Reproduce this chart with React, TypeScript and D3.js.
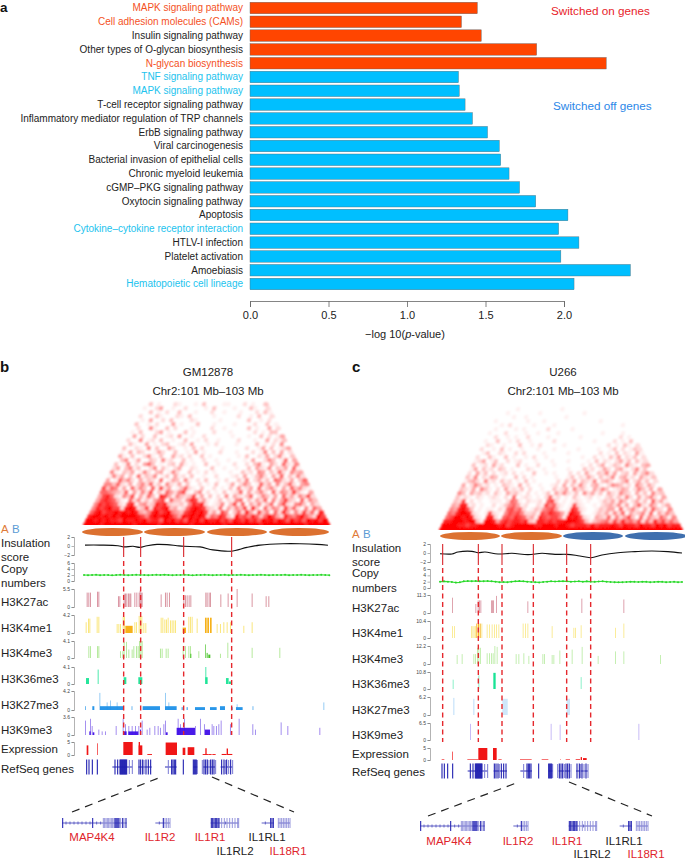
import React, { useEffect, useRef } from 'react';
import * as d3 from 'd3';

// panel a
const pathways = [
  'MAPK signaling pathway', 'Cell adhesion molecules (CAMs)', 'Insulin signaling pathway',
  'Other types of O-glycan biosynthesis', 'N-glycan biosynthesis', 'TNF signaling pathway',
  'MAPK signaling pathway', 'T-cell receptor signaling pathway',
  'Inflammatory mediator regulation of TRP channels', 'ErbB signaling pathway', 'Viral carcinogenesis',
  'Bacterial invasion of epithelial cells', 'Chronic myeloid leukemia', 'cGMP\u2013PKG signaling pathway',
  'Oxytocin signaling pathway', 'Apoptosis', 'Cytokine\u2013cytokine receptor interaction', 'HTLV-I infection',
  'Platelet activation', 'Amoebiasis', 'Hematopoietic cell lineage',
];
const pValues = [1.448, 1.347, 1.473, 1.826, 2.269, 1.328, 1.333, 1.37, 1.417, 1.513, 1.588, 1.597, 1.65, 1.717, 1.82, 2.025, 1.966, 2.095, 1.98, 2.423, 2.064];
const switchedOnCount = 5;
const orangeLabels = [0, 1, 4];
const blueLabels = [5, 6, 16, 20];
const axisTicks = [0, 0.5, 1, 1.5, 2];

// contact maps, top row first, digits 0 (white) to 9 (red)
const heatB = [
  '0301000210 0010300001 1000201003',
  '1002400100 2000010300 0010003100 2',
  '0030102003 0001000200 1000100020 31',
  '2000310002 1030000010 0000200103 002',
  '0104002030 0002100000 1000000300 1020',
  '3001020004 0100030001 0000100002 00301',
  '0200510030 2000100002 0010000030 100402',
  '1030002401 0003010000 2000100000 2010330',
  '0402003001 2040010020 0000010001 00302014',
  '2005012030 0100300102 0010000200 010040213',
  '0310040102 3001204000 1020000100 0030102050',
  '3002105030 0420010302 0000100000 2001403012 4',
  '1040320014 2003001040 1000200010 0020150304 02',
  '4103002510 3004120200 3010000001 0300214025 103',
  '0350140032 0512003010 0200100100 0104002530 1604',
  '3015020463 0102304101 0030010002 0020351042 06215',
  '2403513002 5031024002 1000300100 1003042150 324061',
  '5103240152 0340152003 0102010001 0031205403 1620534',
  '1524030613 2501304120 3001002000 1204013520 41603152',
  '4016352041 3206014305 1020300102 0031502413 065214036',
  '5536214035 2613052140 3002010300 1402530162 4051362045',
  '7365140625 3061724013 6210300201 0305124061 3520416352 1',
  '6654326041 5270316425 7103502010 3012604135 2061542731 04',
  '4786215370 4163087415 3237140302 0504213602 5314062415 372',
  '4787631062 5131467063 3158724101 3021560314 2605147320 6153',
  '5878762178 1452387832 2315878201 2503716042 5136047215 63042',
  '5878977289 8237287893 4126898732 1604253718 3062541736 205164',
  '6897889898 9843589789 5437898972 4175036284 1735062841 5273618',
  '8998989899 9987589899 8649898983 6587319675 8636974286 57964297',
  '9989898879 8898978869 8978698979 8897869879 7869897986 978698979',
  '9999899999 9989999989 9999998999 9999899999 9998999999 9999899999',
];
const heatC = [
  '0000100000 0000010000 0000000000',
  '0010000000 1000000000 0100000000 0',
  '0000100100 0000000100 0000000000 00',
  '1000000010 0010000000 0000001000 000',
  '0010200000 1000010000 0000000000 0010',
  '0100001010 0000200000 1000000000 00000',
  '1000200001 0010000100 0000000010 000100',
  '0020010100 2000010000 0001000000 0002010',
  '1003001020 0100000200 0000000100 00201030',
  '0210010003 0010200000 1000000000 020103102',
  '2001030100 1000100010 0000100001 0013020132',
  '0130021002 0200001000 0010000000 2010302104 1',
  '2003100301 0010200100 0000001002 0103140213 02',
  '1240130020 1200010001 0001000010 3021024130 312',
  '3012041200 0301002000 1000000102 0240132052 1034',
  '1403120320 1000210010 0000100031 2014203410 25130',
  '2041302012 0201003001 0100020204 1032514023 041352',
  '3150214301 0030201000 0010013021 4203125034 1204213',
  '1342051203 1201030100 0002031403 2150342013 50241302',
  '4025312010 3210402001 0012040315 2034102543 120531420',
  '3214053102 0412130200 1003124052 3104253012 4302531404',
  '5304231203 1042310201 0130425213 0524130421 5320413052 3',
  '3121021012 1020601210 1026120103 1012010231 3152041352 04',
  '3270201001 1102651021 1206720101 2101001324 1530241306 241',
  '4388120100 2013564120 0217562101 7210010234 2514036215 3024',
  '5489730101 1021675620 1325674101 8721001324 4061352041 63205',
  '6589982101 7210576752 2317687641 9871001324 1526042351 604253',
  '6799898210 8820676876 3418767751 9897210432 6152473061 5326415',
  '8899989931 9984787887 8328878788 9998731345 6374856472 63857464',
  '9999887889 9999897899 9998899989 9878887978 8898798879 887989788',
  '9999999999 9999999999 9999999999 9999999999 9999999999 9999999999',
];

// signal tracks are [bin, fraction of track maximum, optional width in bins]
type Bar = [number, number, number?];

const insulationB = [[255, 0.2], [300, 0.2], [354, 0.07], [371, -0.2], [399, -0.07], [420, -0.3], [441, 0.07], [471, 0.36], [501, 0.3], [531, 0.07], [552, -0.07], [600, -0.2], [639, -0.87], [693, -1.15], [741, -0.3], [780, 0.2], [849, 0.5], [900, 0.5], [951, 0.36], [984, 0.15]];
const insulationC = [[285, -0.15], [321, -0.22], [339, 0.22], [381, 0.37], [399, 0.07], [420, 0.22], [459, -0.22], [501, -0.07], [549, -0.37], [591, -0.07], [630, -0.3], [666, -0.3], [699, -0.6], [738, -1.04], [771, -0.44], [819, 0.07], [870, 0.3], [921, 0.44], [969, 0.3], [1011, 0]];

const copyB = [2, 1.95, 2, 2.05, 1.95, 2, 2, 1.9, 2, 2.05, 2, 1.95, 2, 2.05, 2, 2, 1.95, 2, 2.05, 2, 2.1, 2, 1.95, 2, 2, 2.05, 2, 1.9, 2, 2, 2.05, 2, 1.95, 2, 2, 2.05, 1.95, 2, 2, 2.05, 2, 1.95, 2, 2, 2.05, 2, 1.95, 2, 2, 2, 2.05, 1.95, 2, 2, 2.05, 2, 1.95, 2, 2, 2.05, 2, 1.95];
const copyC = [2, 2.1, 2, 1.9, 1.7, 1.8, 2.1, 2.2, 2.15, 2.2, 2.1, 2.15, 2.2, 2.1, 2, 1.85, 1.9, 1.85, 2, 2.1, 2.2, 2.1, 2, 1.9, 1.85, 1.75, 1.9, 2, 2.1, 2.05, 2.1, 2.15, 2.1, 2, 2.05, 2.1, 2, 2.1, 2, 1.95, 2.05, 2.1, 2, 1.9, 1.85, 1.8, 1.85, 1.9, 2, 1.95, 1.9, 2, 1.95, 1.85, 1.9, 2, 1.95, 1.85, 1.9, 1.95, 1.85, 1.9];

const k27acB: Bar[] = [[260, 0.8], [265, 0.8], [270, 0.8], [291, 0.85], [295, 0.85], [354, 0.6], [358, 0.6], [371, 0.75], [375, 0.75], [379, 0.75], [384, 0.75], [388, 0.75], [391, 0.75], [403, 0.8], [409, 0.8], [416, 0.8], [419, 0.9], [422, 0.8], [425, 0.8], [482, 0.7], [495, 0.8], [500, 0.8], [507, 0.8], [550, 0.65], [555, 0.65], [560, 0.65], [566, 0.65], [571, 0.65], [616, 0.8], [620, 0.8], [626, 0.8], [630, 0.8], [661, 0.7], [683, 0.75], [710, 1], [755, 0.75], [797, 0.6], [805, 0.6]];
const k4me1B: Bar[] = [[257, 0.6], [264, 0.8], [268, 0.8], [290, 0.9], [295, 0.9], [350, 0.5], [355, 0.5], [360, 0.5], [368, 0.9], [372, 0.9], [376, 0.4, 22], [403, 0.6], [408, 0.6], [416, 0.95], [420, 0.95], [424, 0.95], [430, 0.55], [436, 0.55], [482, 0.85], [487, 0.85], [493, 0.75], [498, 0.75], [503, 0.85], [510, 0.7], [515, 0.7], [520, 0.7], [525, 0.7], [548, 0.3, 10], [565, 0.9], [570, 0.9], [575, 0.9], [590, 0.8], [615, 0.85, 5], [622, 0.85, 5], [630, 0.85, 5], [650, 0.5], [660, 0.5], [670, 0.6], [680, 0.6], [690, 0.6], [730, 0.4], [755, 0.6]];
const k4me3B: Bar[] = [[265, 0.7], [270, 0.7], [291, 0.7], [295, 0.7], [360, 0.4], [367, 0.4], [371, 0.95], [378, 0.95], [385, 0.5], [395, 0.5], [400, 0.7], [408, 0.7], [413, 0.7], [417, 1], [421, 1], [425, 1], [480, 0.55], [485, 0.55], [497, 0.55], [503, 0.55], [548, 0.7], [555, 0.7], [565, 0.7], [570, 0.7], [571, 0.25, 3], [595, 0.4], [616, 0.8, 2], [620, 0.3, 3], [625, 0.2, 6], [660, 0.25], [682, 0.9], [755, 0.6], [838, 0.6]];
const k36me3B: Bar[] = [[258, 0.35, 9], [293, 0.85], [371, 0.4, 8], [415, 0.4, 12], [616, 1], [616, 0.4, 7], [678, 0.35, 8], [687, 0.15, 8]];
const k27me3B: Bar[] = [[255, 0.2, 2], [277, 0.2, 6], [298, 0.9], [300, 0.2, 70], [320, 0.4], [330, 0.5], [350, 0.4], [395, 0.2, 2], [428, 0.2, 52], [495, 0.9], [495, 0.2, 35], [505, 0.4], [545, 0.15, 3], [560, 0.15, 3], [585, 0.15, 30], [630, 0.15, 20], [660, 0.2, 15], [695, 0.15, 3], [710, 0.3], [708, 0.15, 20], [758, 0.2, 2], [970, 0.4]];
const k9me3B: Bar[] = [[255, 0.8], [270, 0.9], [275, 0.5], [295, 0.3], [305, 0.2], [315, 0.2], [347, 0.5], [368, 0.9], [375, 0.6], [385, 0.5], [395, 0.5], [405, 0.5], [415, 0.5], [425, 0.8], [440, 0.3], [448, 0.4], [463, 0.5], [473, 0.5], [480, 0.4], [490, 0.6], [495, 0.8], [533, 0.9], [540, 0.6], [552, 0.9], [585, 0.5], [600, 0.9], [612, 0.6], [635, 0.6], [640, 0.5], [648, 0.5], [655, 0.6], [662, 0.8], [690, 0.6], [716, 0.9], [757, 0.6], [765, 0.3], [842, 0.7], [862, 0.5], [958, 0.4], [268, 0.2, 4], [278, 0.15, 5], [370, 0.2, 10], [385, 0.2, 30], [420, 0.3, 3], [498, 0.15, 5], [530, 0.4, 55], [615, 0.3, 15]];
const exprB: Bar[] = [[260, 0.74, 5], [292, 0.9, 2], [370, 1, 28], [416, 1, 4], [416, 0.74, 11], [442, 0.07, 14], [497, 0.96, 34], [548, 0.56, 8], [563, 0.6, 20], [608, 0.07, 17], [616, 0.52, 4], [625, 0.07, 10], [637, 0.07, 10], [665, 0.08, 15], [680, 0.5, 4], [684, 0.08, 13]];

const k27acC: Bar[] = [[321, 0.85], [391, 0.5], [398, 0.7], [402, 0.7], [406, 0.7], [438, 0.7], [441, 0.7], [444, 0.7], [453, 0.95], [547, 0.65], [709, 0.8], [835, 0.75]];
const k4me1C: Bar[] = [[321, 0.7], [327, 0.7], [378, 0.7], [382, 0.7], [386, 0.7], [390, 0.7], [394, 0.85, 3], [399, 0.85, 3], [404, 0.85, 3], [409, 0.85], [425, 0.8], [432, 0.8], [440, 0.8], [447, 0.8], [453, 0.8], [460, 0.8], [533, 0.85], [540, 0.85], [547, 0.85], [620, 0.7], [685, 0.6], [690, 0.6], [707, 0.75], [810, 0.6], [835, 0.85]];
const k4me3C: Bar[] = [[335, 0.5], [350, 0.55], [385, 0.55], [390, 0.55], [396, 0.9], [400, 0.9], [405, 0.9], [425, 0.6], [432, 0.6], [438, 0.6], [443, 0.6], [448, 1], [455, 0.95], [512, 0.55], [520, 0.55], [535, 0.6], [550, 0.45], [592, 0.55], [597, 0.55], [620, 0.5], [625, 0.5], [643, 0.75], [680, 0.8], [710, 0.95], [758, 0.45], [810, 0.7], [835, 0.7], [945, 0.5]];
const k36me3C: Bar[] = [[323, 0.55], [400, 0.8], [445, 0.95, 7], [707, 0.7]];
const k27me3C: Bar[] = [[325, 0.95], [385, 0.9], [472, 0.9, 16], [665, 0.9, 10]];
const k9me3C: Bar[] = [[375, 0.95], [617, 0.95], [644, 0.9], [880, 0.95]];
const exprC: Bar[] = [[290, 0.05, 8], [322, 0.7, 2], [367, 0.05, 33], [400, 1, 27], [444, 1, 11], [460, 0.05, 10], [525, 0.05, 35], [590, 0.05, 20], [645, 0.05, 2], [662, 0.05, 13], [692, 0.06, 13], [707, 0.24, 4], [714, 0.16, 11]];

// RefSeq genes, in panel b bins
const geneIntrons = [[337, 397], [415, 455], [495, 530], [580, 593], [610, 645], [662, 698]];
const geneExonsDark = [260, 267, 277, 292, 345, 353, 360, 362, 364, 366, 368, 370, 372, 374, 376, 378, 380, 417, 422, 428, 438, 445, 452, 515, 519, 523, 527, 550, 580, 583, 586, 589, 612, 617, 622, 632, 637, 642, 665, 672, 680, 692];
const geneExonsPale = [388, 397, 432, 505, 592, 607, 627, 647, 676, 686, 698];

// zoomed gene models, in panel b bins of the lower strip
const modelIntrons = [[186, 380], [466, 510], [632, 716], [785, 822], [835, 870]];
const modelSmallTicks = [198, 210, 222, 234, 246, 258, 270, 290, 302, 478, 676, 796];
const modelExonsDark = [188, 278, 345, 348, 351, 354, 357, 368, 378, 490, 634, 638, 642, 646, 650, 654, 657, 812, 816, 820];
const modelExonsPale = [310, 314, 318, 322, 326, 330, 334, 338, 342, 362, 372, 495, 500, 505, 510, 665, 673, 681, 689, 697, 705, 713, 716, 835, 840, 845, 850, 855, 860, 865, 870];

const tadsB = [[82, 143], [144, 205], [207, 267], [269, 329]];
const tadsC = [[440, 500], [501, 562], [563, 623], [625, 687]];
const compartmentsB = ['A', 'A', 'A', 'A'];
const compartmentsC = ['A', 'A', 'B', 'B'];
const boundariesB = [371, 422, 551, 695];
const boundariesC = [293, 400, 471, 565, 665, 737];

const trackNames = ['H3K27ac', 'H3K4me1', 'H3K4me3', 'H3K36me3', 'H3K27me3', 'H3K9me3'];
const trackColors = ['#b8324a', '#f5d000', '#6fd63f', '#00e08a', '#1e90e8', '#4a20e0'];
const trackWideColors = ['#b8324a', '#f5a800', '#3fc020', '#00e08a', '#1e90e8', '#3f10e8'];
const trackMaxB = [5.5, 4.2, 4.1, 4.1, 4.2, 3.6];
const trackMaxC = [11.3, 10.4, 12.2, 10.8, 6.2, 6.5];
const trackBarsB = [k27acB, k4me1B, k4me3B, k36me3B, k27me3B, k9me3B];
const trackBarsC = [k27acC, k4me1C, k4me3C, k36me3C, k27me3C, k9me3C];

const FONT = '"Liberation Sans", Arial, sans-serif';

const App: React.FC = () => {
  const svgRef = useRef<SVGSVGElement>(null);

  useEffect(() => {
    if (!svgRef.current) return;
    const svg = d3.select(svgRef.current);
    svg.selectAll('*').remove();
    svg.attr('font-family', FONT);

    const defs = svg.append('defs');
    defs.append('filter').attr('id', 'soft').attr('x', '-5%').attr('y', '-5%').attr('width', '110%').attr('height', '110%')
      .append('feGaussianBlur').attr('stdDeviation', 0.8);
    defs.append('filter').attr('id', 'softTrack').attr('x', '-5%').attr('y', '-5%').attr('width', '110%').attr('height', '110%')
      .append('feGaussianBlur').attr('stdDeviation', 0.35);

    const panelLetter = (t: string, x: number, y: number, size = 15) =>
      svg.append('text').attr('x', x).attr('y', y).attr('font-size', size).attr('font-weight', 'bold').attr('fill', '#111').text(t);

    // panel a
    const x = d3.scaleLinear().domain([0, 2]).range([250, 564]);
    const y = d3.scaleBand<number>().domain(d3.range(pathways.length)).range([1.1, 290.9]).paddingInner(0.16).paddingOuter(0.08);
    panelLetter('a', 0, 12.3, 13.5);

    const a = svg.append('g');
    a.selectAll('rect').data(pValues).join('rect')
      .attr('x', x(0))
      .attr('y', (d, i) => y(i)!)
      .attr('width', d => x(d) - x(0))
      .attr('height', y.bandwidth())
      .attr('fill', (d, i) => (i < switchedOnCount ? '#ff4500' : '#00bfff'))
      .attr('stroke', '#5a6a70')
      .attr('stroke-width', 0.4);

    a.selectAll('text.cat').data(pathways).join('text')
      .attr('class', 'cat')
      .attr('x', 243)
      .attr('y', (d, i) => y(i)! + y.bandwidth() / 2 + 3.4)
      .attr('text-anchor', 'end')
      .attr('font-size', 10)
      .attr('fill', (d, i) => (orangeLabels.includes(i) ? '#f4511e' : blueLabels.includes(i) ? '#22c3ee' : '#222'))
      .text(d => d);

    const axis = svg.append('g').attr('transform', 'translate(0,301)')
      .call(d3.axisBottom(x).tickValues(axisTicks).tickSize(6).tickFormat(d3.format('.1f') as any));
    axis.selectAll('path,line').attr('stroke', '#666').attr('stroke-width', 0.8);
    axis.selectAll('text').attr('font-size', 11).attr('font-family', FONT).attr('fill', '#222').attr('y', 10);

    const xLabel = svg.append('text').attr('x', 405).attr('y', 338).attr('text-anchor', 'middle').attr('font-size', 11).attr('fill', '#222');
    xLabel.append('tspan').text('\u2212log 10(');
    xLabel.append('tspan').attr('font-style', 'italic').text('p');
    xLabel.append('tspan').text('-value)');

    svg.append('text').attr('x', 551).attr('y', 15).attr('font-size', 11.7).attr('fill', '#e8232a').text('Switched on genes');
    svg.append('text').attr('x', 553).attr('y', 110).attr('font-size', 11.7).attr('fill', '#2b87e8').text('Switched off genes');

    // panels b and c share everything but the numbers
    const drawPanel = (p: any) => {
      const g = svg.append('g');
      const bin = d3.scaleLinear().domain(p.binDomain).range(p.binRange);
      const labelText = (t: string, yy: number) =>
        g.append('text').attr('x', p.labelX).attr('y', yy + 4).attr('font-size', 11.5).attr('fill', '#222').text(t);

      panelLetter(p.letter, p.letterX, 372);
      g.append('text').attr('x', p.titleX).attr('y', 376).attr('text-anchor', 'middle').attr('font-size', 11.5).attr('fill', '#222').text(p.title);
      g.append('text').attr('x', p.titleX).attr('y', 395).attr('text-anchor', 'middle').attr('font-size', 11.5).attr('fill', '#222').text('Chr2:101 Mb\u2013103 Mb');

      // contact map
      const rows = p.heat.map((s: string) => s.replace(/ /g, ''));
      const nCols = rows[rows.length - 1].length;
      const cellW = (p.binRange[1] - p.binRange[0]) / nCols;
      const rowH = 4;
      const color = d3.scalePow<string>().exponent(1.3).domain([0, 9]).range(['#ffffff', '#ff0000']);
      const cells: { r: number; i: number; v: number }[] = [];
      rows.forEach((s: string, k: number) => {
        const r = rows.length - 1 - k;
        s.split('').forEach((c, i) => cells.push({ r, i, v: +c }));
      });
      const clipId = `clip-${p.letter}`;
      const base = p.heatBase;
      defs.append('clipPath').attr('id', clipId).append('rect')
        .attr('x', p.binRange[0] - 5).attr('y', base - 140).attr('width', p.binRange[1] - p.binRange[0] + 10).attr('height', 140);
      g.append('g').attr('clip-path', `url(#${clipId})`)
        .append('g').attr('filter', 'url(#soft)')
        .selectAll('circle').data(cells).join('circle')
        .attr('fill', d => color(d.v))
        .attr('cx', d => p.binRange[0] + (d.i + d.r / 2 + 0.5) * cellW)
        .attr('cy', d => base - d.r * rowH)
        .attr('r', 2.9);

      // A/B legend and compartments
      g.append('text').attr('x', p.labelX).attr('y', p.abY + 4).attr('font-size', 11.5).attr('fill', '#e07b39').text('A');
      g.append('text').attr('x', p.labelX + 11).attr('y', p.abY + 4).attr('font-size', 11.5).attr('fill', '#5b9bd5').text('B');
      g.selectAll('ellipse').data(p.tads).join('ellipse')
        .attr('cx', (d: any) => (d[0] + d[1]) / 2)
        .attr('cy', p.tadY)
        .attr('rx', (d: any) => (d[1] - d[0]) / 2)
        .attr('ry', 4)
        .attr('fill', (d: any, i: number) => (p.compartments[i] === 'A' ? '#dc7130' : '#3f6fae'));

      const smallAxis = (scale: any, ticks: number[]) => {
        const ax = g.append('g').attr('transform', `translate(${p.axisX},0)`)
          .call(d3.axisLeft(scale).tickValues(ticks).tickSize(2.5).tickPadding(1.5).tickFormat((d: any) => String(d).replace('-', '\u2212')));
        ax.selectAll('path,line').attr('stroke', '#666').attr('stroke-width', 0.5);
        ax.selectAll('text').attr('font-size', 5).attr('font-family', FONT).attr('fill', '#444');
      };

      // insulation score
      const insY = d3.scaleLinear().domain([-2, 2]).range(p.insRange);
      smallAxis(insY, [-2, 0, 2]);
      labelText('Insulation', p.insLabelY[0]);
      labelText('score', p.insLabelY[1]);
      g.append('path')
        .attr('d', d3.line<number[]>().x(d => bin(d[0])).y(d => insY(d[1])).curve(d3.curveCatmullRom)(p.insulation))
        .attr('fill', 'none').attr('stroke', '#111').attr('stroke-width', 1.1);

      // copy numbers
      const cnY = d3.scaleLinear().domain([0, 6]).range(p.cnRange);
      const cnX = d3.scaleLinear().domain([0, p.copy.length - 1]).range(p.binRange);
      smallAxis(cnY, [0, 2, 4, 6]);
      labelText('Copy', p.cnLabelY[0]);
      labelText('numbers', p.cnLabelY[1]);
      g.append('path')
        .attr('d', d3.line<number>().x((d, i) => cnX(i)).y(d => cnY(d))(p.copy))
        .attr('fill', 'none').attr('stroke', '#35e035').attr('stroke-width', 1.2);
      g.selectAll('circle.cn').data(p.copy).join('circle').attr('class', 'cn')
        .attr('cx', (d: any, i: number) => cnX(i)).attr('cy', (d: any) => cnY(d)).attr('r', 1).attr('fill', '#2ad62a');

      // histone tracks
      const trackG = g.append('g').attr('filter', 'url(#softTrack)');
      trackNames.forEach((name, t) => {
        const [y0, y1] = p.trackY[t];
        const sc = d3.scaleLinear().domain([0, p.trackMax[t]]).range([y0, y1]);
        smallAxis(sc, [0, p.trackMax[t]]);
        labelText(name, y0 - 5);
        const bars: Bar[] = p.trackBars[t];
        trackG.append('g').selectAll('rect').data(bars).join('rect')
          .attr('x', d => bin(d[0]))
          .attr('y', d => sc(d[1] * p.trackMax[t]))
          .attr('width', d => (d[2] ? bin(d[0] + d[2]) - bin(d[0]) : 1))
          .attr('height', d => y0 - sc(d[1] * p.trackMax[t]))
          .attr('fill', d => (d[2] ? trackWideColors[t] : trackColors[t]))
          .attr('opacity', d => (d[2] ? p.wideOpacity[t] : p.thinOpacity[t]));
      });

      // expression
      const exY = d3.scaleLinear().domain([0, 5]).range(p.exRange);
      smallAxis(exY, [0, 5]);
      labelText('Expression', p.exLabelY);
      g.append('g').selectAll('rect').data(p.expr as Bar[]).join('rect')
        .attr('x', d => bin(d[0]))
        .attr('y', d => exY(d[1] * 5))
        .attr('width', d => bin(d[0] + (d[2] || 1)) - bin(d[0]))
        .attr('height', d => p.exRange[0] - exY(d[1] * 5))
        .attr('fill', '#f01616');

      // RefSeq genes
      labelText('RefSeq genes', p.geneLabelY);
      const geneX = (v: number) => bin(v + p.geneShift);
      const geneG = g.append('g').attr('filter', 'url(#softTrack)');
      geneG.selectAll('line.i').data(geneIntrons).join('line').attr('class', 'i')
        .attr('x1', d => geneX(d[0])).attr('x2', d => geneX(d[1])).attr('y1', p.geneY).attr('y2', p.geneY)
        .attr('stroke', '#2a2ab4').attr('stroke-width', 1);
      geneG.selectAll('line.p').data(geneExonsPale).join('line').attr('class', 'p')
        .attr('x1', d => geneX(d)).attr('x2', d => geneX(d)).attr('y1', p.geneY - 7).attr('y2', p.geneY + 7)
        .attr('stroke', '#7a7ad4').attr('stroke-width', 1);
      geneG.selectAll('line.d').data(geneExonsDark).join('line').attr('class', 'd')
        .attr('x1', d => geneX(d)).attr('x2', d => geneX(d)).attr('y1', p.geneY - 7.5).attr('y2', p.geneY + 7.5)
        .attr('stroke', '#2020b0').attr('stroke-width', 1.1);

      // boundaries
      const bLines = g.append('g');
      bLines.selectAll('line.s').data(p.boundaries).join('line').attr('class', 's')
        .attr('x1', (d: any) => bin(d)).attr('x2', (d: any) => bin(d)).attr('y1', p.solidY[0]).attr('y2', p.solidY[1])
        .attr('stroke', '#d9252b').attr('stroke-width', 1.1);
      bLines.selectAll('line.d').data(p.boundaries).join('line').attr('class', 'd')
        .attr('x1', (d: any) => bin(d)).attr('x2', (d: any) => bin(d)).attr('y1', p.dashY[0]).attr('y2', p.dashY[1])
        .attr('stroke', '#e5282d').attr('stroke-width', 1.4).attr('stroke-dasharray', '5 3.5');

      // zoom guides
      g.selectAll('line.z').data(p.guides).join('line').attr('class', 'z')
        .attr('x1', (d: any) => d[0]).attr('y1', (d: any) => d[1]).attr('x2', (d: any) => d[2]).attr('y2', (d: any) => d[3])
        .attr('stroke', '#222').attr('stroke-width', 1.2).attr('stroke-dasharray', '8 6');

      // gene models
      const mod = d3.scaleLinear().domain([186, 882]).range(p.modelRange);
      const m = g.append('g').attr('filter', 'url(#softTrack)');
      m.selectAll('line.i').data(modelIntrons).join('line').attr('class', 'i')
        .attr('x1', d => mod(d[0])).attr('x2', d => mod(d[1])).attr('y1', p.modelY).attr('y2', p.modelY)
        .attr('stroke', '#3a3ab8').attr('stroke-width', 0.8);
      m.selectAll('line.t').data(modelSmallTicks).join('line').attr('class', 't')
        .attr('x1', d => mod(d)).attr('x2', d => mod(d)).attr('y1', p.modelY - 1.5).attr('y2', p.modelY + 1.5)
        .attr('stroke', '#3a3ab8').attr('stroke-width', 0.7);
      m.selectAll('line.p').data(modelExonsPale).join('line').attr('class', 'p')
        .attr('x1', d => mod(d)).attr('x2', d => mod(d)).attr('y1', p.modelY - 5).attr('y2', p.modelY + 5)
        .attr('stroke', '#8a8ad8').attr('stroke-width', 0.9);
      m.selectAll('line.d').data(modelExonsDark).join('line').attr('class', 'd')
        .attr('x1', d => mod(d)).attr('x2', d => mod(d)).attr('y1', p.modelY - 5).attr('y2', p.modelY + 5)
        .attr('stroke', '#2a2ab4').attr('stroke-width', 1.1);

      g.selectAll('text.gene').data(p.geneLabels).join('text').attr('class', 'gene')
        .attr('x', (d: any) => d[1]).attr('y', (d: any) => d[2] + 4)
        .attr('text-anchor', 'middle').attr('font-size', 11.5)
        .attr('fill', (d: any) => (d[3] ? '#e0242c' : '#222'))
        .text((d: any) => d[0]);
    };

    drawPanel({
      letter: 'b', letterX: 0, title: 'GM12878', titleX: 208, heat: heatB, heatBase: 525,
      binDomain: [252, 988], binRange: [84, 329.3], labelX: 1, axisX: 74,
      abY: 529, tads: tadsB, compartments: compartmentsB, tadY: 532,
      insRange: [555, 537], insLabelY: [543, 557], insulation: insulationB,
      cnRange: [581, 563], cnLabelY: [569, 583], copy: copyB,
      trackY: [[607, 589], [633, 615], [658, 641], [684, 667], [710, 691], [735, 717]],
      trackMax: trackMaxB, trackBars: trackBarsB, thinOpacity: [0.5, 0.5, 0.5, 0.7, 0.45, 0.5],
      wideOpacity: [0.95, 0.9, 0.95, 0.85, 0.95, 0.95],
      exRange: [755, 742], exLabelY: 749, expr: exprB,
      geneLabelY: 769, geneY: 767, geneShift: 0,
      boundaries: boundariesB, solidY: [537, 557], dashY: [561, 735],
      guides: [[72, 812, 161, 777], [212, 777, 294, 812]],
      modelRange: [62, 294], modelY: 823,
      geneLabels: [['MAP4K4', 92, 837, 1], ['IL1R2', 160, 837, 1], ['IL1R1', 210, 837, 1], ['IL1RL1', 267, 837, 0], ['IL1RL2', 235, 851, 0], ['IL18R1', 288, 851, 1]],
    });

    drawPanel({
      letter: 'c', letterX: 352, title: 'U266', titleX: 563, heat: heatC, heatBase: 530,
      binDomain: [285, 1011], binRange: [440, 682], labelX: 352, axisX: 430,
      abY: 534, tads: tadsC, compartments: compartmentsC, tadY: 536,
      insRange: [562, 544], insLabelY: [548, 562], insulation: insulationC,
      cnRange: [588, 569], cnLabelY: [573, 588], copy: copyC,
      trackY: [[613, 595], [638, 621], [664, 646], [689, 672], [715, 697], [740, 723]],
      trackMax: trackMaxC, trackBars: trackBarsC, thinOpacity: [0.45, 0.4, 0.4, 0.45, 0.3, 0.3],
      wideOpacity: [0.95, 0.9, 0.95, 0.9, 0.22, 0.95],
      exRange: [760, 748], exLabelY: 754, expr: exprC,
      geneLabelY: 772, geneY: 771, geneShift: 31,
      boundaries: boundariesC, solidY: [544, 565], dashY: [568, 742],
      guides: [[428, 816, 519, 782], [569, 782, 652, 816]],
      modelRange: [420, 652], modelY: 826,
      geneLabels: [['MAP4K4', 449, 841, 1], ['IL1R2', 518, 841, 1], ['IL1R1', 567, 841, 1], ['IL1RL1', 624, 841, 0], ['IL1RL2', 592, 854, 0], ['IL18R1', 646, 854, 1]],
    });
  }, []);

  return <svg ref={svgRef} width={685} height={859} style={{ position: 'absolute', left: 0, top: 0, background: '#fff' }} />;
};

export default App;
